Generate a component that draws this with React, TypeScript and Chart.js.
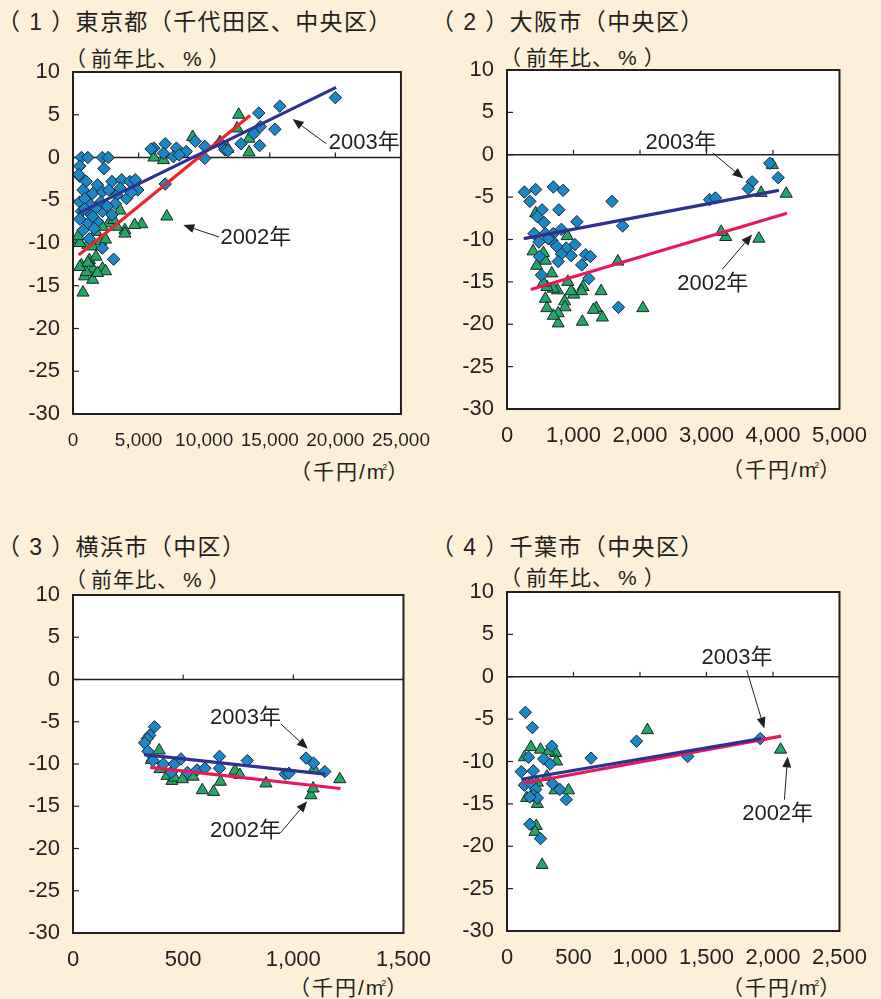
import React, { useEffect, useRef } from "react";
import { Chart, registerables } from "chart.js";

Chart.register(...registerables);

type Pt = [number, number];

// ---------- data ----------
const yTicksMin = -30;
const yTicksMax = 10;
const yStep = 5;

// (1) Tokyo
const tokyo2003: Pt[] = [
  [20000, 7.0], [15760, 6.0], [14160, 5.2], [15390, 3.3], [14280, 3.6], [13790, 2.8], [12810, 1.6],
  [14230, 1.4], [11580, 0.9], [11210, 1.7], [10050, 1.3], [10050, -0.1], [9320, 1.9], [8630, 0.7],
  [7890, 1.1], [7030, 1.6], [6170, 1.1], [5950, 1.0], [6900, 0.5], [7650, 0.1], [7030, -3.1],
  [11800, 0.8], [8100, 0.3],
  [640, 0], [1130, 0], [2240, 0], [2680, 0], [516, -1.0], [2360, -1.3], [516, -2.2], [1010, -2.8],
  [2970, -2.8], [3710, -2.6], [4330, -2.8], [4740, -2.6], [4940, -3.8], [760, -3.8], [1500, -4.2],
  [2240, -4.0], [2730, -3.8], [3340, -4.4], [4080, -4.8], [4450, -4.1], [516, -5.2], [1250, -5.4],
  [2120, -5.2], [3220, -5.4], [640, -6.3], [1380, -6.7], [2240, -6.3], [2970, -6.7], [516, -7.2],
  [1130, -7.7], [1870, -7.5], [760, -8.5], [1620, -8.3], [1250, -9.5], [2240, -10.6], [3100, -11.9],
  [890, -4.8], [1750, -5.9], [2600, -5.7], [3600, -3.6], [1870, -3.2], [440, -2.0], [890, -6.0], [1500, -6.9],
];
const tokyo2002: Pt[] = [
  [12630, 5.0], [13420, 2.2], [13420, 0.6], [12510, 3.4], [9120, 2.4], [11210, 1.8], [11800, 1.0],
  [6170, 0.0], [6900, -0.3], [7150, -6.9], [5240, -7.8], [4700, -7.9], [3960, -8.5], [3960, -8.9],
  [3590, -6.2], [3340, -8.1], [2730, -7.7], [3100, -7.3], [2240, -8.1], [1750, -8.7], [390, -9.6],
  [1130, -10.2], [2120, -9.8], [2480, -9.6], [1500, -10.4], [520, -10.0], [640, -12.6], [1250, -12.0],
  [1750, -11.6], [2240, -13.0], [2480, -13.3], [1500, -13.0], [880, -13.9], [1500, -14.3], [760, -15.8],
  [1010, -13.4], [1870, -13.5], [520, -12.8], [1130, -12.3], [400, -9.2],
];
const tokyoTrend2003: Pt[] = [[440, -6.5], [20060, 8.2]];
const tokyoTrend2002: Pt[] = [[440, -11.4], [13500, 4.9]];

// (2) Osaka
const osaka2003: Pt[] = [
  [3952, -1.0], [4078, -2.7], [3687, -3.2], [3629, -4.0], [3047, -5.3], [3134, -5.1], [1579, -5.5],
  [1739, -8.4], [1676, -18.0], [1230, -14.6], [1124, -13.0], [1182, -11.8], [1254, -12.0], [1022, -10.6],
  [1051, -7.9], [964, -11.9], [891, -11.0], [818, -11.7], [770, -12.6], [818, -8.8], [780, -6.5],
  [843, -4.2], [697, -3.8], [697, -9.3], [673, -10.1], [746, -10.8], [431, -4.1], [262, -4.4],
  [344, -5.5], [528, -6.5], [455, -7.3], [557, -8.0], [407, -9.3], [480, -10.3], [489, -12.0],
  [518, -14.2], [577, -9.3], [620, -9.9],
];
const osaka2002: Pt[] = [
  [4199, -4.6], [3821, -4.5], [3991, -1.2], [3788, -9.9], [3289, -9.7], [3221, -9.1], [2044, -18.1],
  [1667, -12.6], [1415, -16.1], [1434, -19.2], [1342, -18.1], [1300, -18.3], [1133, -19.7], [1142, -15.6],
  [1120, -16.1], [1003, -16.5], [963, -16.1], [915, -15.0], [867, -17.3], [872, -18.0], [770, -18.7],
  [770, -19.9], [697, -19.0], [760, -16.0], [697, -15.8], [600, -15.6], [577, -17.0], [600, -18.1],
  [548, -15.1], [673, -14.0], [577, -12.5], [548, -11.6], [392, -11.4], [446, -13.1], [906, -9.6],
  [431, -6.9],
];
const osakaTrend2003: Pt[] = [[252, -9.9], [4088, -4.2]];
const osakaTrend2002: Pt[] = [[358, -15.9], [4209, -6.9]];

// (3) Yokohama
const yokohama2003: Pt[] = [
  [370, -5.6], [348, -6.6], [337, -7.0], [325, -7.5], [340, -8.5], [363, -9.6], [410, -10.0],
  [446, -11.0], [460, -10.0], [490, -9.4], [519, -11.0], [563, -10.7], [599, -10.5], [665, -9.1],
  [665, -10.5], [791, -9.6], [963, -11.2], [980, -11.1], [1058, -9.3], [1092, -9.9], [1143, -10.9],
];
const yokohama2002: Pt[] = [
  [391, -8.4], [356, -9.5], [395, -10.6], [427, -11.4], [449, -12.0], [460, -11.6], [497, -11.8],
  [545, -11.5], [587, -13.1], [638, -13.3], [669, -12.1], [735, -10.8], [757, -11.3], [876, -12.3],
  [1080, -13.7], [1090, -12.9], [1094, -10.6], [1211, -11.8],
];
const yokohamaTrend2003: Pt[] = [[322, -8.9], [1146, -11.2]];
const yokohamaTrend2002: Pt[] = [[351, -10.4], [1214, -12.9]];

// (4) Chiba
const chiba2003: Pt[] = [
  [138, -4.2], [191, -6.0], [162, -9.5], [107, -11.2], [198, -11.1], [131, -12.8], [180, -12.6],
  [216, -13.3], [198, -14.0], [228, -14.3], [172, -14.2], [172, -17.4], [252, -19.1], [276, -9.7],
  [325, -10.3], [337, -8.2], [342, -12.6], [397, -13.3], [446, -14.5], [632, -9.6], [974, -7.6],
  [1359, -9.4], [1904, -7.3],
];
const chiba2002: Pt[] = [
  [1056, -6.3], [2057, -8.6], [264, -22.2], [220, -17.6], [211, -18.3], [228, -15.0], [148, -14.3],
  [180, -8.3], [131, -9.5], [252, -8.6], [366, -9.0], [373, -10.0], [313, -8.8], [463, -13.4],
  [361, -13.4], [300, -11.8], [228, -12.5],
];
const chibaTrend2003: Pt[] = [[107, -12.1], [1911, -7.3]];
const chibaTrend2002: Pt[] = [[119, -12.6], [2062, -7.0]];

// annotations: [label, textX, textY, arrowFromX, arrowFromY, arrowToX, arrowToY]
type Ann = [string, number, number, number, number, number, number];
const tokyoNotes: Ann[] = [
  ["2003年", 22200, 1.7, 19320, 1.6, 16740, 4.5],
  ["2002年", 13940, -9.4, 11140, -9.3, 8410, -7.9],
];
const osakaNotes: Ann[] = [
  ["2003年", 2615, 1.4, 3095, 0.2, 3556, -2.8],
  ["2002年", 3095, -15.25, 3240, -13.5, 3686, -9.4],
];
const yokohamaNotes: Ann[] = [
  ["2003年", 783, -4.6, 945, -5.3, 1066, -8.2],
  ["2002年", 783, -17.9, 940, -18.2, 1063, -14.4],
];
const chibaNotes: Ann[] = [
  ["2003年", 1730, 2.2, 1802, 0.8, 1935, -6.1],
  ["2002年", 2035, -16.2, 2086, -14.5, 2110, -9.4],
];

// ---------- styles ----------
const BG = "#FDF0D9";
const TEXT = "#231F20";
const BLUE_LINE = "#2E3192";
const RED_LINE_TOKYO = "#E8262B";
const RED_LINE = "#E8195A";
const DIAMOND = "#1A88C4";
const TRIANGLE = "#22A862";
const OUTLINE = "#1B2430";
const FONT = "'Liberation Sans', 'Noto Sans CJK JP', sans-serif";

interface PanelCfg {
  left: number; top: number; width: number; height: number;
  padTop: number; padRight: number; yAxisW: number; xAxisH: number;
  xMax: number; xStep: number; xFont: number;
  pts03: Pt[]; pts02: Pt[]; tr03: Pt[]; tr02: Pt[]; red: string; notes: Ann[];
}

const panels: PanelCfg[] = [
  { left: 0, top: 40, width: 445, height: 440, padTop: 32, padRight: 33, yAxisW: 73, xAxisH: 66,
    xMax: 25000, xStep: 5000, xFont: 19, pts03: tokyo2003, pts02: tokyo2002, tr03: tokyoTrend2003, tr02: tokyoTrend2002,
    red: RED_LINE_TOKYO, notes: tokyoNotes },
  { left: 440, top: 40, width: 441, height: 440, padTop: 30, padRight: 30, yAxisW: 67, xAxisH: 71,
    xMax: 5000, xStep: 1000, xFont: 22, pts03: osaka2003, pts02: osaka2002, tr03: osakaTrend2003, tr02: osakaTrend2002,
    red: RED_LINE, notes: osakaNotes },
  { left: 0, top: 560, width: 445, height: 439, padTop: 35, padRight: 29, yAxisW: 73, xAxisH: 66,
    xMax: 1500, xStep: 500, xFont: 22, pts03: yokohama2003, pts02: yokohama2002, tr03: yokohamaTrend2003, tr02: yokohamaTrend2002,
    red: RED_LINE, notes: yokohamaNotes },
  { left: 440, top: 560, width: 441, height: 439, padTop: 32, padRight: 30, yAxisW: 67, xAxisH: 68,
    xMax: 2500, xStep: 500, xFont: 22, pts03: chiba2003, pts02: chiba2002, tr03: chibaTrend2003, tr02: chibaTrend2002,
    red: RED_LINE, notes: chibaNotes },
];

const toXY = (arr: Pt[]) => arr.map(([x, y]) => ({ x, y }));

function makeFramePlugin(notes: Ann[]) {
  return {
    id: "frame",
    beforeDraw(chart: any) {
      const { ctx, chartArea: a } = chart;
      ctx.save();
      ctx.fillStyle = "#FFFFFF";
      ctx.fillRect(a.left, a.top, a.right - a.left, a.bottom - a.top);
      ctx.restore();
    },
    beforeDatasetsDraw(chart: any) {
      const { ctx, chartArea: a } = chart;
      const xs = chart.scales.x;
      const ys = chart.scales.y;
      ctx.save();
      ctx.strokeStyle = TEXT;
      ctx.lineWidth = 1.3;
      const y0 = ys.getPixelForValue(0);
      ctx.beginPath();
      ctx.moveTo(a.left, y0);
      ctx.lineTo(a.right, y0);
      ctx.stroke();
      ctx.lineWidth = 1.2;
      xs.ticks.forEach((t: any) => {
        const px = xs.getPixelForValue(t.value);
        ctx.beginPath();
        ctx.moveTo(px, y0);
        ctx.lineTo(px, y0 - 5);
        ctx.stroke();
      });
      ys.ticks.forEach((t: any) => {
        const py = ys.getPixelForValue(t.value);
        ctx.beginPath();
        ctx.moveTo(a.left - 1, py);
        ctx.lineTo(a.left + 6, py);
        ctx.stroke();
      });
      ctx.restore();
    },
    afterDraw(chart: any) {
      const { ctx, chartArea: a } = chart;
      const xs = chart.scales.x;
      const ys = chart.scales.y;
      ctx.save();
      ctx.strokeStyle = TEXT;
      ctx.lineWidth = 2;
      ctx.strokeRect(a.left, a.top, a.right - a.left, a.bottom - a.top);
      notes.forEach(([label, tx, ty, fx, fy, hx, hy]) => {
        ctx.fillStyle = TEXT;
        ctx.font = `22px ${FONT}`;
        ctx.textAlign = "center";
        ctx.textBaseline = "middle";
        ctx.fillText(label, xs.getPixelForValue(tx), ys.getPixelForValue(ty));
        const x1 = xs.getPixelForValue(fx), y1 = ys.getPixelForValue(fy);
        const x2 = xs.getPixelForValue(hx), y2 = ys.getPixelForValue(hy);
        const ang = Math.atan2(y2 - y1, x2 - x1);
        const hl = 11, hw = 4.5;
        const bx = x2 - Math.cos(ang) * hl, by = y2 - Math.sin(ang) * hl;
        ctx.lineWidth = 1;
        ctx.beginPath();
        ctx.moveTo(x1, y1);
        ctx.lineTo(bx, by);
        ctx.stroke();
        ctx.beginPath();
        ctx.moveTo(x2, y2);
        ctx.lineTo(bx + Math.sin(ang) * hw, by - Math.cos(ang) * hw);
        ctx.lineTo(bx - Math.sin(ang) * hw, by + Math.cos(ang) * hw);
        ctx.closePath();
        ctx.fill();
      });
      ctx.restore();
    },
  };
}

function Panel({ cfg }: { cfg: PanelCfg }) {
  const ref = useRef<HTMLCanvasElement>(null);
  useEffect(() => {
    const chart = new Chart(ref.current as HTMLCanvasElement, {
      type: "scatter",
      data: {
        datasets: [
          { label: "2003 trend", data: toXY(cfg.tr03), showLine: true, borderColor: BLUE_LINE, borderWidth: 3.2,
            pointRadius: 0, order: 0 } as any,
          { label: "2002 trend", data: toXY(cfg.tr02), showLine: true, borderColor: cfg.red, borderWidth: 3.2,
            pointRadius: 0, order: 1 } as any,
          { label: "2003年", data: toXY(cfg.pts03), pointStyle: "rectRot", pointRadius: 6.2,
            backgroundColor: DIAMOND, borderColor: OUTLINE, borderWidth: 1, order: 2 } as any,
          { label: "2002年", data: toXY(cfg.pts02), pointStyle: "triangle", pointRadius: 7,
            backgroundColor: TRIANGLE, borderColor: OUTLINE, borderWidth: 1, order: 3 } as any,
        ],
      },
      options: {
        animation: false,
        responsive: false,
        devicePixelRatio: 1,
        events: [],
        layout: { padding: { top: cfg.padTop, right: cfg.padRight, left: 0, bottom: 0 } },
        plugins: { legend: { display: false }, tooltip: { enabled: false } },
        scales: {
          x: {
            type: "linear", min: 0, max: cfg.xMax,
            grid: { display: false, drawTicks: false },
            border: { display: false },
            ticks: {
              stepSize: cfg.xStep, autoSkip: false, maxRotation: 0,
              padding: cfg.xFont === 19 ? 15 : 14, color: TEXT, font: { family: FONT, size: cfg.xFont },
              callback: (v: any) => Number(v).toLocaleString("en-US"),
            },
            afterFit: (s: any) => { s.height = cfg.xAxisH; },
          },
          y: {
            type: "linear", min: yTicksMin, max: yTicksMax,
            grid: { display: false, drawTicks: false },
            border: { display: false },
            ticks: {
              stepSize: yStep, autoSkip: false, padding: 13, color: TEXT, font: { family: FONT, size: 22 },
              callback: (v: any) => String(v),
            },
            afterFit: (s: any) => { s.width = cfg.yAxisW; },
          },
        },
      } as any,
      plugins: [makeFramePlugin(cfg.notes) as any],
    });
    return () => chart.destroy();
  }, [cfg]);
  return (
    <canvas
      ref={ref}
      width={cfg.width}
      height={cfg.height}
      style={{ position: "absolute", left: cfg.left, top: cfg.top, width: cfg.width, height: cfg.height }}
    />
  );
}

const titles: [string, number, number][] = [
  ["（ 1 ）東京都（千代田区、中央区）", -3, 22],
  ["（ 2 ）大阪市（中央区）", 431, 22],
  ["（ 3 ）横浜市（中区）", -3, 547],
  ["（ 4 ）千葉市（中央区）", 431, 547],
];
const yUnits: [number, number][] = [[65, 59], [500, 58], [65, 580], [500, 578]];
const xUnits: [number, number][] = [[290, 467], [722, 465], [289, 983], [722, 983]];

export default function App() {
  const txt: React.CSSProperties = { position: "absolute", whiteSpace: "nowrap", color: TEXT, fontFamily: FONT };
  return (
    <div style={{ position: "absolute", left: 0, top: 0, width: 881, height: 999, background: BG, overflow: "hidden" }}>
      {titles.map(([t, x, cy], i) => (
        <div key={"t" + i} style={{ ...txt, left: x, top: cy - 12, fontSize: 23, lineHeight: "24px", letterSpacing: 1.4 }}>{t}</div>
      ))}
      {yUnits.map(([x, cy], i) => (
        <div key={"y" + i} style={{ ...txt, left: x, top: cy - 11, fontSize: 21, lineHeight: "22px", letterSpacing: 1 }}>
          <span>（</span>
          <span style={{ marginLeft: 4 }}>前年比、</span>
          <span style={{ marginLeft: 4 }}>%</span>
          <span style={{ marginLeft: 6 }}>）</span>
        </div>
      ))}
      {xUnits.map(([x, cy], i) => (
        <div key={"x" + i} style={{ ...txt, left: x, top: cy - 11, fontSize: 21, lineHeight: "22px", letterSpacing: 2 }}>
          （千円/m<span style={{ fontSize: 9, verticalAlign: "9px", letterSpacing: 0, marginLeft: -4 }}>2</span>）
        </div>
      ))}
      {panels.map((p, i) => (
        <Panel key={i} cfg={p} />
      ))}
    </div>
  );
}
